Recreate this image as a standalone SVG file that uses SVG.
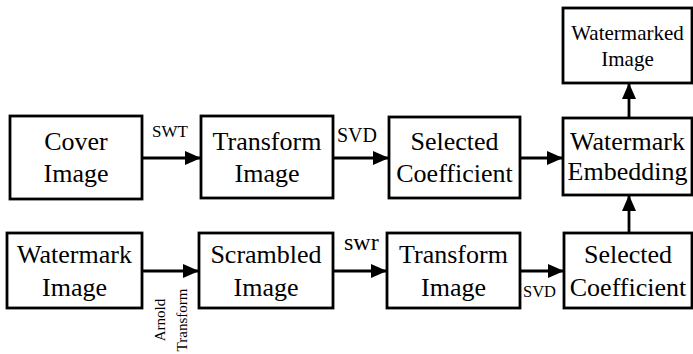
<svg xmlns="http://www.w3.org/2000/svg" width="693" height="354" viewBox="0 0 693 354">
<style>
.box{fill:#fff;stroke:#000;stroke-width:2.8}
.t{font-family:'Liberation Serif','Times New Roman',Times,serif;font-size:26px;text-anchor:middle;fill:#000}
.w{font-size:21px}
.s{font-family:'Liberation Serif','Times New Roman',Times,serif;text-anchor:start;fill:#000}
.v{font-family:'Liberation Serif','Times New Roman',Times,serif;text-anchor:middle;font-size:15px;fill:#000}
.c{stroke:#000;stroke-width:2.8;fill:none;marker-end:url(#ah)}
</style>
<defs>
<marker id="ah" markerUnits="userSpaceOnUse" markerWidth="16" markerHeight="16" viewBox="0 0 16 16" refX="16" refY="8" orient="auto">
<path d="M0,1 L16,8 L0,15 Z" fill="#000"/>
</marker>
</defs>
<g id="connectors">
<line class="c" x1="142" y1="158" x2="201" y2="158"/>
<line class="c" x1="333" y1="158" x2="389" y2="158"/>
<line class="c" x1="520" y1="158" x2="563" y2="158"/>
<line class="c" x1="629" y1="118" x2="629" y2="83"/>
<line class="c" x1="629" y1="233" x2="629" y2="195"/>
<line class="c" x1="142" y1="271" x2="199" y2="271"/>
<line class="c" x1="333" y1="271" x2="387" y2="271"/>
<line class="c" x1="520" y1="271" x2="564" y2="271"/>
<text class="s" x="152" y="137" font-size="17">SWT</text>
<text class="s" x="337" y="142" font-size="20">SVD</text>
<text class="s" x="344" y="250" font-size="24">swr</text>
<text class="s" x="523" y="297" font-size="16.5">SVD</text>
<text class="v" transform="translate(165,320) rotate(-90)">Arnold</text>
<text class="v" transform="translate(187,320) rotate(-90)">Transform</text>
</g>
<g id="cover">
<rect class="box" x="10" y="116" width="132" height="83"/>
<text class="t" x="76" y="150">Cover</text>
<text class="t" x="76" y="182">Image</text>
</g>
<g id="transform1">
<rect class="box" x="201" y="116" width="132" height="82"/>
<text class="t" x="267" y="150">Transform</text>
<text class="t" x="267" y="182">Image</text>
</g>
<g id="selected1">
<rect class="box" x="389" y="117" width="131" height="81"/>
<text class="t" x="454.5" y="150">Selected</text>
<text class="t" x="454.5" y="182">Coefficient</text>
</g>
<g id="embedding">
<rect class="box" x="563" y="118" width="129" height="77"/>
<text class="t" x="627.5" y="150">Watermark</text>
<text class="t" x="627.5" y="180">Embedding</text>
</g>
<g id="watermarked">
<rect class="box" x="563" y="8" width="129" height="75"/>
<text class="t w" x="627.5" y="40">Watermarked</text>
<text class="t w" x="627.5" y="66">Image</text>
</g>
<g id="watermark">
<rect class="box" x="7" y="233" width="135" height="75"/>
<text class="t" x="74.5" y="263">Watermark</text>
<text class="t" x="74.5" y="296">Image</text>
</g>
<g id="scrambled">
<rect class="box" x="199" y="233" width="134" height="75"/>
<text class="t" x="266" y="263">Scrambled</text>
<text class="t" x="266" y="296">Image</text>
</g>
<g id="transform2">
<rect class="box" x="387" y="233" width="133" height="75"/>
<text class="t" x="453.5" y="263">Transform</text>
<text class="t" x="453.5" y="296">Image</text>
</g>
<g id="selected2">
<rect class="box" x="564" y="233" width="128" height="75"/>
<text class="t" x="628" y="263">Selected</text>
<text class="t" x="628" y="296">Coefficient</text>
</g>
</svg>
